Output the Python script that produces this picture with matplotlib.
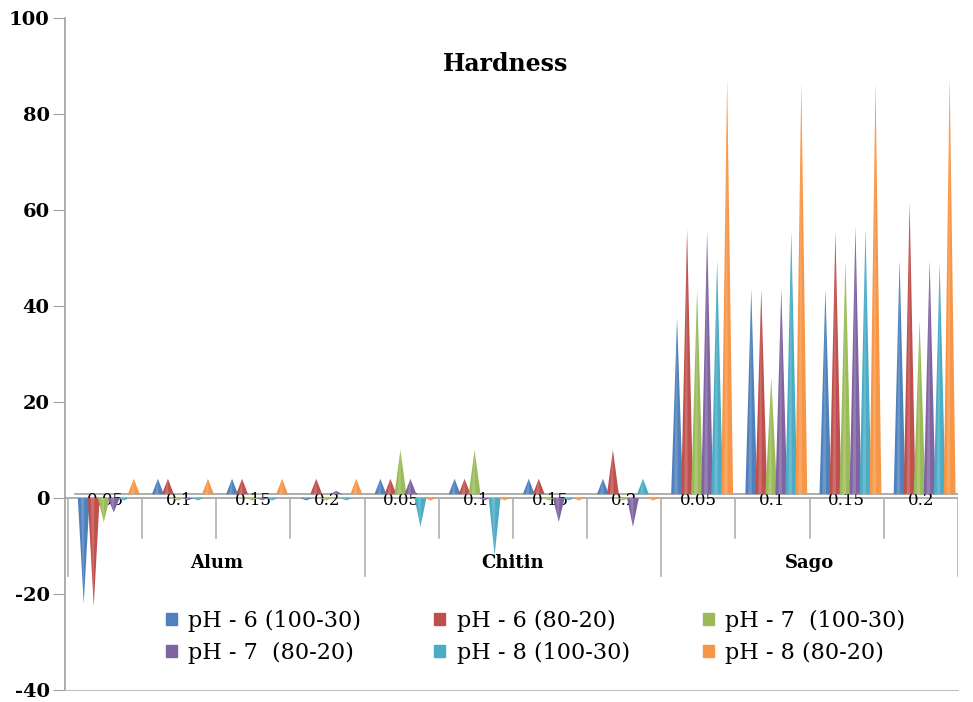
import matplotlib.pyplot as plt
from matplotlib.patches import Patch
import matplotlib.colors as mcolors

plt.rcParams["font.family"] = ["DejaVu Serif"]

groups = ["Alum", "Chitin", "Sago"]
doses = ["0.05", "0.1", "0.15", "0.2"]
series = ["pH - 6 (100-30)", "pH - 6 (80-20)", "pH - 7  (100-30)",
          "pH - 7  (80-20)", "pH - 8 (100-30)", "pH - 8 (80-20)"]
colors = ["#4F81BD", "#C0504D", "#9BBB59", "#8064A2", "#4BACC6", "#F79646"]

# values per series, 12 categories (Alum x4, Chitin x4, Sago x4)
ph6_100 = [-22, 4, 4, -0.5, 4, 4, 4, 4, 37.5, 43.5, 43.5, 49.5]
ph6_80 = [-22.5, 4, 4, 4, 4, 4, 4, 10, 56, 43.5, 55.5, 61.5]
ph7_100 = [-5, -0.5, -0.5, -0.5, 10, 10, -0.5, -0.5, 43.5, 25, 49.5, 37]
ph7_80 = [-3, -0.5, -0.5, 1.5, 4, -0.5, -5, -6, 55.5, 43.5, 56.5, 49.5]
ph8_100 = [-0.5, -0.5, -0.5, -0.5, -6, -12, -0.5, 4, 49.5, 55.5, 56, 49]
ph8_80 = [4, 4, 4, 4, -0.5, -0.5, -0.5, -0.5, 87, 86.5, 86.5, 87.5]
values = [ph6_100, ph6_80, ph7_100, ph7_80, ph8_100, ph8_80]

fig = plt.figure(figsize=(9.73, 7.02), dpi=100)
ax = fig.add_axes([65 / 973, 12 / 702, (958 - 65) / 973, (690 - 18) / 702])
ax.set_xlim(-0.54, 11.5)
ax.set_ylim(-40, 100)

# floor / category axis lines
ax.axhline(0, color="#a0a0a0", lw=1.2, zorder=1)
ax.plot([-0.4, 11.5], [0.8, 0.8], color="#a0a0a0", lw=1.2, zorder=1)

spacing = 0.135
half = 0.08
for s, vals in enumerate(values):
    base = colors[s]
    light = mcolors.to_rgb(base)
    light = tuple(min(1, c + (1 - c) * 0.35) for c in light)
    for i, v in enumerate(vals):
        xc = i + 0.05 + (s - 2.5) * spacing
        y0 = 0.8 if v >= 0 else 0
        ax.fill([xc - half, xc + half, xc], [y0, y0, v], color=base, lw=0, zorder=3)
        ax.fill([xc - half * 0.5, xc + half * 0.1, xc], [y0, y0, v],
                color=light, lw=0, alpha=0.5, zorder=4)

# category labels and separators
for i in range(12):
    ax.text(i, -0.5, doses[i % 4], ha="center", va="center",
            fontsize=12, zorder=2)
for b in range(13):
    x = b - 0.5
    low = -16.3 if b % 4 == 0 else -8.3
    ax.plot([x, x], [0, low], color="#b0b0b0", lw=1.2, zorder=1)
for g, name in enumerate(groups):
    ax.text(g * 4 + 1.5, -13.6, name, ha="center", va="center",
            fontsize=13, fontweight="bold", zorder=2)

ax.text(5.4, 90.5, "Hardness", ha="center", va="center", fontsize=17,
        fontweight="bold")

ax.set_xticks([])
yt = list(range(-40, 101, 20))
ax.set_yticks(yt, labels=[str(t) for t in yt], fontweight="bold", fontsize=14)
ax.tick_params(axis="y", length=9, color="#a0a0a0", pad=2)
for sp in ["top", "right"]:
    ax.spines[sp].set_visible(False)
ax.spines["left"].set_color("#a0a0a0")
ax.spines["bottom"].set_color("#c0c0c0")
ax.spines["left"].set_linewidth(1.2)

handles = [Patch(color=c, label=l) for c, l in zip(colors, series)]
order = [0, 3, 1, 4, 2, 5]
leg = ax.legend([handles[k] for k in order], [series[k] for k in order],
                ncol=3, loc="center", bbox_to_anchor=(0.527, 0.079),
                frameon=False, prop={"size": 16},
                handlelength=0.5, handleheight=0.5, handletextpad=0.5,
                columnspacing=3.3, labelspacing=0.45)

fig.savefig("out.png", dpi=100)
